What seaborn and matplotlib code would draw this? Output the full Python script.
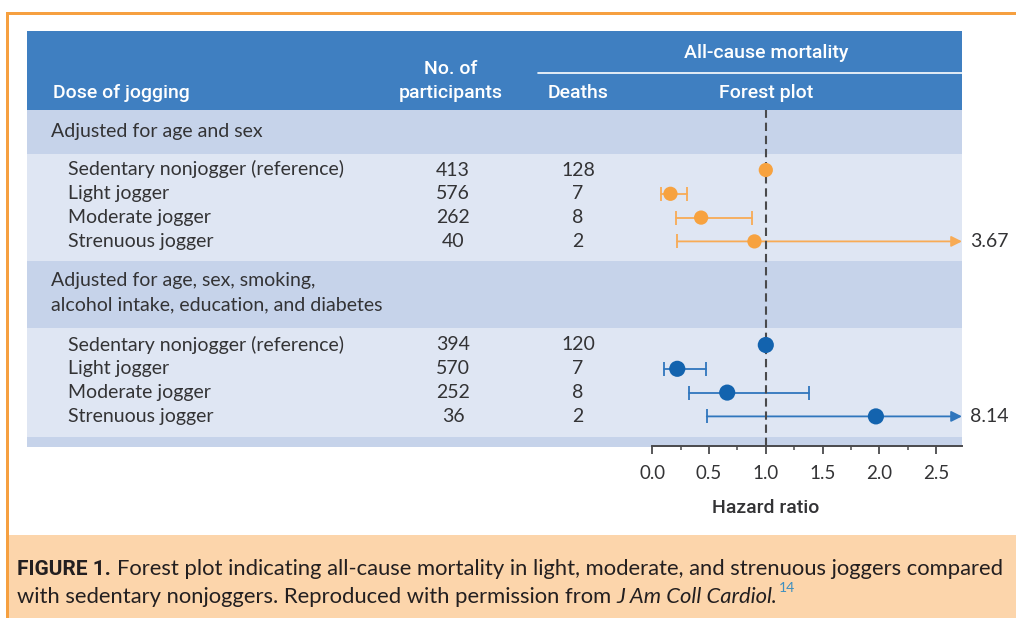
import numpy as np
import pandas as pd
import seaborn as sns
import matplotlib.pyplot as plt
from matplotlib.patches import Rectangle
from matplotlib.ticker import MultipleLocator

sns.set_theme(style='white')
plt.rcParams['font.family'] = ['Lato', 'DejaVu Sans']

# ---------------- data ----------------
groups = ['Sedentary nonjogger (reference)', 'Light jogger', 'Moderate jogger', 'Strenuous jogger']
section_labels = ['Adjusted for age and sex',
                  'Adjusted for age, sex, smoking,\nalcohol intake, education, and diabetes']

participants_1 = [413, 576, 262, 40]
deaths_1 = [128, 7, 8, 2]
hr_1 = [1.0, 0.16, 0.43, 0.90]
ci_low_1 = [np.nan, 0.08, 0.21, 0.22]
ci_high_1 = [np.nan, 0.31, 0.88, 3.67]

participants_2 = [394, 570, 252, 36]
deaths_2 = [120, 7, 8, 2]
hr_2 = [1.0, 0.22, 0.66, 1.97]
ci_low_2 = [np.nan, 0.10, 0.32, 0.48]
ci_high_2 = [np.nan, 0.47, 1.38, 8.14]

hr_ticks = [0.0, 0.5, 1.0, 1.5, 2.0, 2.5]

# ---------------- layout / style ----------------
W, H = 1016, 618
header_blue = '#3f7fc1'
band_dark = '#c6d3ea'
band_light = '#dfe6f3'
orange = '#f7a23f'
orange_line = '#f8ab55'
blue = '#1363ae'
blue_line = '#2f76bd'
text_col = '#333335'
head_font = ['Roboto', 'DejaVu Sans']
body_size = 14

x_ax0, x_ax1 = 652.3, 962      # pixel extent of the hazard ratio axis
px_per_hr = 113.5
y_top, y_axis = 110, 446
row_step = 23.8
row_start = [170, 345]

fig = plt.figure(figsize=(W / 100, H / 100), dpi=100)
bg = fig.add_axes([0, 0, 1, 1])
bg.set_xlim(0, W)
bg.set_ylim(H, 0)
bg.axis('off')

# frame + caption box
bg.add_patch(Rectangle((6, 12), W - 6, 3, color='#f6a040', lw=0))
bg.add_patch(Rectangle((6, 12), 3, H - 12, color='#f6a040', lw=0))
bg.add_patch(Rectangle((9, 535), W - 9, H - 535, color='#fcd5ab', lw=0))

# table bands
bg.add_patch(Rectangle((27, 31), 935, 79, color=header_blue, lw=0))
bg.add_patch(Rectangle((27, 110), 935, 44, color=band_dark, lw=0))
bg.add_patch(Rectangle((27, 154), 935, 107, color=band_light, lw=0))
bg.add_patch(Rectangle((27, 261), 935, 67, color=band_dark, lw=0))
bg.add_patch(Rectangle((27, 328), 935, 109, color=band_light, lw=0))
bg.add_patch(Rectangle((27, 437), 935, 10, color=band_dark, lw=0))
bg.plot([538, 962], [73, 73], color='white', lw=1.2)

# header text
hkw = dict(color='white', fontsize=14, fontweight='medium', family=head_font, va='baseline')
bg.text(53, 98, 'Dose of jogging', ha='left', **hkw)
bg.text(451, 74, 'No. of', ha='center', **hkw)
bg.text(451, 98, 'participants', ha='center', **hkw)
bg.text(578, 98, 'Deaths', ha='center', **hkw)
bg.text(766, 98, 'Forest plot', ha='center', **hkw)
bg.text(766, 58, 'All-cause mortality', ha='center', **hkw)

# section + row text
tkw = dict(color=text_col, fontsize=body_size, va='baseline')
bg.text(51, 137, section_labels[0], ha='left', **tkw)
sec2 = section_labels[1].split('\n')
bg.text(51, 286, sec2[0], ha='left', **tkw)
bg.text(51, 310, sec2[1], ha='left', **tkw)

tables = [(participants_1, deaths_1), (participants_2, deaths_2)]
for s, (parts, dths) in enumerate(tables):
    for i, g in enumerate(groups):
        yb = row_start[s] + i * row_step + 5.5
        bg.text(68, yb, g, ha='left', **tkw)
        bg.text(453, yb, str(parts[i]), ha='center', **tkw)
        bg.text(578, yb, str(dths[i]), ha='center', **tkw)

# ---------------- forest plot ----------------
hr_max = (x_ax1 - x_ax0) / px_per_hr
ax = fig.add_axes([x_ax0 / W, 1 - y_axis / H, (x_ax1 - x_ax0) / W, (y_axis - y_top) / H])
ax.set_facecolor('none')
ax.set_xlim(0, hr_max)
ax.set_ylim(y_axis, y_top)

rows = []
for s, (hr, lo, hi, name) in enumerate([(hr_1, ci_low_1, ci_high_1, 'age/sex'),
                                        (hr_2, ci_low_2, ci_high_2, 'full')]):
    for i in range(len(groups)):
        rows.append(dict(model=name, hr=hr[i], lo=lo[i], hi=hi[i],
                         y=row_start[s] + i * row_step))
df = pd.DataFrame(rows)

line_cols = {'age/sex': orange_line, 'full': blue_line}
for _, r in df.iterrows():
    if np.isnan(r.lo):
        continue
    c = line_cols[r.model]
    ax.plot([r.lo], [r.y], marker='|', ms=10, mew=1.3, color=c, zorder=2, clip_on=False)
    if r.hi <= hr_max:
        ax.plot([r.lo, r.hi], [r.y, r.y], color=c, lw=1.3, zorder=2)
        ax.plot([r.hi], [r.y], marker='|', ms=10, mew=1.3, color=c, zorder=2)
    else:
        ax.annotate('', xy=(hr_max, r.y), xytext=(r.lo, r.y),
                    arrowprops=dict(arrowstyle='-|>', color=c, lw=1.3, mutation_scale=16,
                                    shrinkA=0, shrinkB=0), annotation_clip=False, zorder=2)
        bg.text(x_ax1 + 8, r.y + 5.5, f'{r.hi:.2f}', ha='left', **tkw)

ax.axvline(1.0, color='#4a4a4c', lw=1.5, ls=(0, (4, 2.3)), zorder=2.5)

sns.scatterplot(data=df, x='hr', y='y', hue='model', size='model',
                palette={'age/sex': orange, 'full': blue},
                sizes={'age/sex': 105, 'full': 135},
                linewidth=0, legend=False, ax=ax, zorder=3, clip_on=False)

for sp in ['top', 'right', 'left']:
    ax.spines[sp].set_visible(False)
ax.spines['bottom'].set_color('#4a4a4c')
ax.spines['bottom'].set_linewidth(1.4)
ax.set_yticks([])
ax.set_xticks(hr_ticks)
ax.set_xticklabels([f'{t:.1f}' for t in hr_ticks])
ax.xaxis.set_minor_locator(MultipleLocator(0.25))
ax.tick_params(axis='x', which='major', bottom=True, direction='out', length=5.5, width=1.3,
               color='#4a4a4c', labelsize=13.5, labelcolor=text_col, pad=8)
ax.tick_params(axis='x', which='minor', bottom=True, direction='out', length=3, width=1.1,
               color='#4a4a4c')
ax.set_xlabel('')
ax.set_ylabel('')
bg.text(766, 513, 'Hazard ratio', ha='center', va='baseline', fontsize=14,
        fontweight='medium', family=head_font, color=text_col)

# ---------------- caption ----------------
fig.canvas.draw()
rend = fig.canvas.get_renderer()


def chain(x, y, pieces):
    out = []
    for s, kw, gap in pieces:
        t = bg.text(x, y, s, ha='left', va='baseline', **kw)
        out.append(t)
        x += t.get_window_extent(renderer=rend).width + gap
    return out


ckw = dict(fontsize=15.8, color='#231f20')
chain(17, 575, [('FIGURE 1.', dict(fontsize=15, color='#231f20', fontweight='bold',
                                   family=head_font), 6),
                ('Forest plot indicating all-cause mortality in light, moderate, and strenuous '
                 'joggers compared', ckw, 0)])
line2 = chain(17, 603, [('with sedentary nonjoggers. Reproduced with permission from', ckw, 5),
                        ('J Am Coll Cardiol', dict(ckw, style='italic'), -1),
                        ('.', ckw, 2),
                        ('14', dict(fontsize=10, color='#3d8fc0'), 0)])
line2[-1].set_y(592)  # superscript reference number

fig.savefig('out.png', dpi=100)
